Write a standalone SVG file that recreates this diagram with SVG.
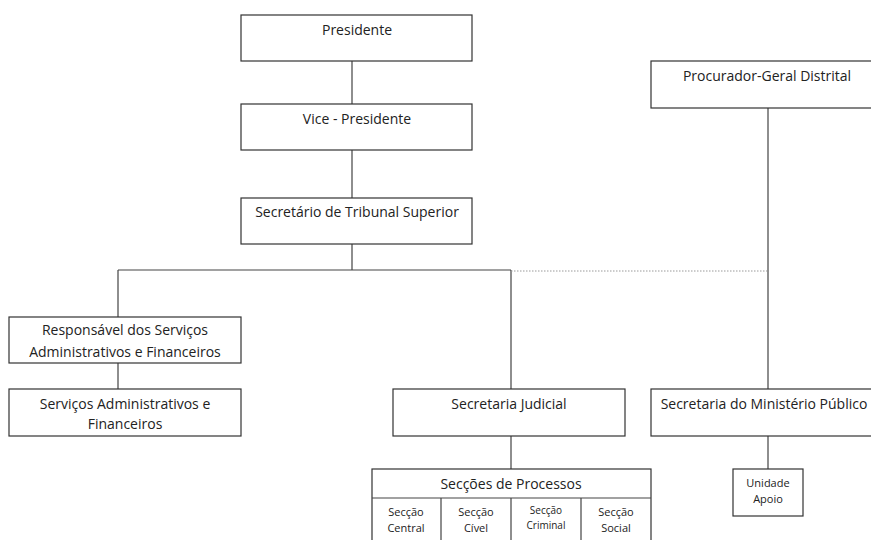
<svg xmlns="http://www.w3.org/2000/svg" width="871" height="540" viewBox="0 0 871 540">
<style>
.box{fill:#fff;stroke:#333;stroke-width:1.2}
.ln{stroke:#444;stroke-width:1.2;fill:none}
.dot{stroke:#999;stroke-width:1;stroke-dasharray:1.5 1.5;fill:none}
text{font-family:"Open Sans","Noto Sans","DejaVu Sans",sans-serif;fill:#222;text-anchor:middle}
.t{font-size:14px}
.s{font-size:11px}
.xs{font-size:10px}
.u{font-size:11px}
</style>
<rect width="871" height="540" fill="#fff"/>
<g id="connectors">
<path class="ln" d="M352 61V104M352 150V198M352 244V270M118 270H511M118 270V317M118 363V389M511 270V389M511 436V469M768 108V389M768 436V469"/>
<path class="dot" d="M511 271H767"/>
</g>
<g id="presidente"><rect class="box" x="241" y="15" width="231" height="46"/><text class="t" x="357" y="35">Presidente</text></g>
<g id="vice"><rect class="box" x="241" y="104" width="231" height="46"/><text class="t" x="357" y="124">Vice - Presidente</text></g>
<g id="secretario"><rect class="box" x="241" y="198" width="231" height="46"/><text class="t" x="357" y="217">Secretário de Tribunal Superior</text></g>
<g id="procurador"><rect class="box" x="651" y="61" width="225" height="47"/><text class="t" x="767" y="81">Procurador-Geral Distrital</text></g>
<g id="responsavel"><rect class="box" x="9" y="317" width="232" height="46"/><text class="t" x="125" y="335">Responsável dos Serviços</text><text class="t" x="125" y="357">Administrativos e Financeiros</text></g>
<g id="servicos"><rect class="box" x="9" y="389" width="232" height="47"/><text class="t" x="125" y="409">Serviços Administrativos e</text><text class="t" x="125" y="429">Financeiros</text></g>
<g id="judicial"><rect class="box" x="393" y="389" width="232" height="47"/><text class="t" x="509" y="409">Secretaria Judicial</text></g>
<g id="ministerio"><rect class="box" x="651" y="389" width="225" height="47"/><text class="t" x="764" y="409">Secretaria do Ministério Público</text></g>
<g id="unidade"><rect class="box" x="733" y="469" width="70" height="47"/><text class="u" x="768" y="487">Unidade</text><text class="u" x="768" y="503">Apoio</text></g>
<g id="seccoes">
<rect class="box" x="372" y="469" width="279" height="80"/>
<path class="ln" d="M372 498H651M441 498V545M511 498V545M581 498V545"/>
<text class="t" x="511" y="489">Secções de Processos</text>
<text class="s" x="406" y="516">Secção</text><text class="s" x="406" y="532">Central</text>
<text class="s" x="476" y="516">Secção</text><text class="s" x="476" y="532">Cível</text>
<text class="xs" x="546" y="514">Secção</text><text class="xs" x="546" y="529">Criminal</text>
<text class="s" x="616" y="516">Secção</text><text class="s" x="616" y="532">Social</text>
</g>
</svg>
